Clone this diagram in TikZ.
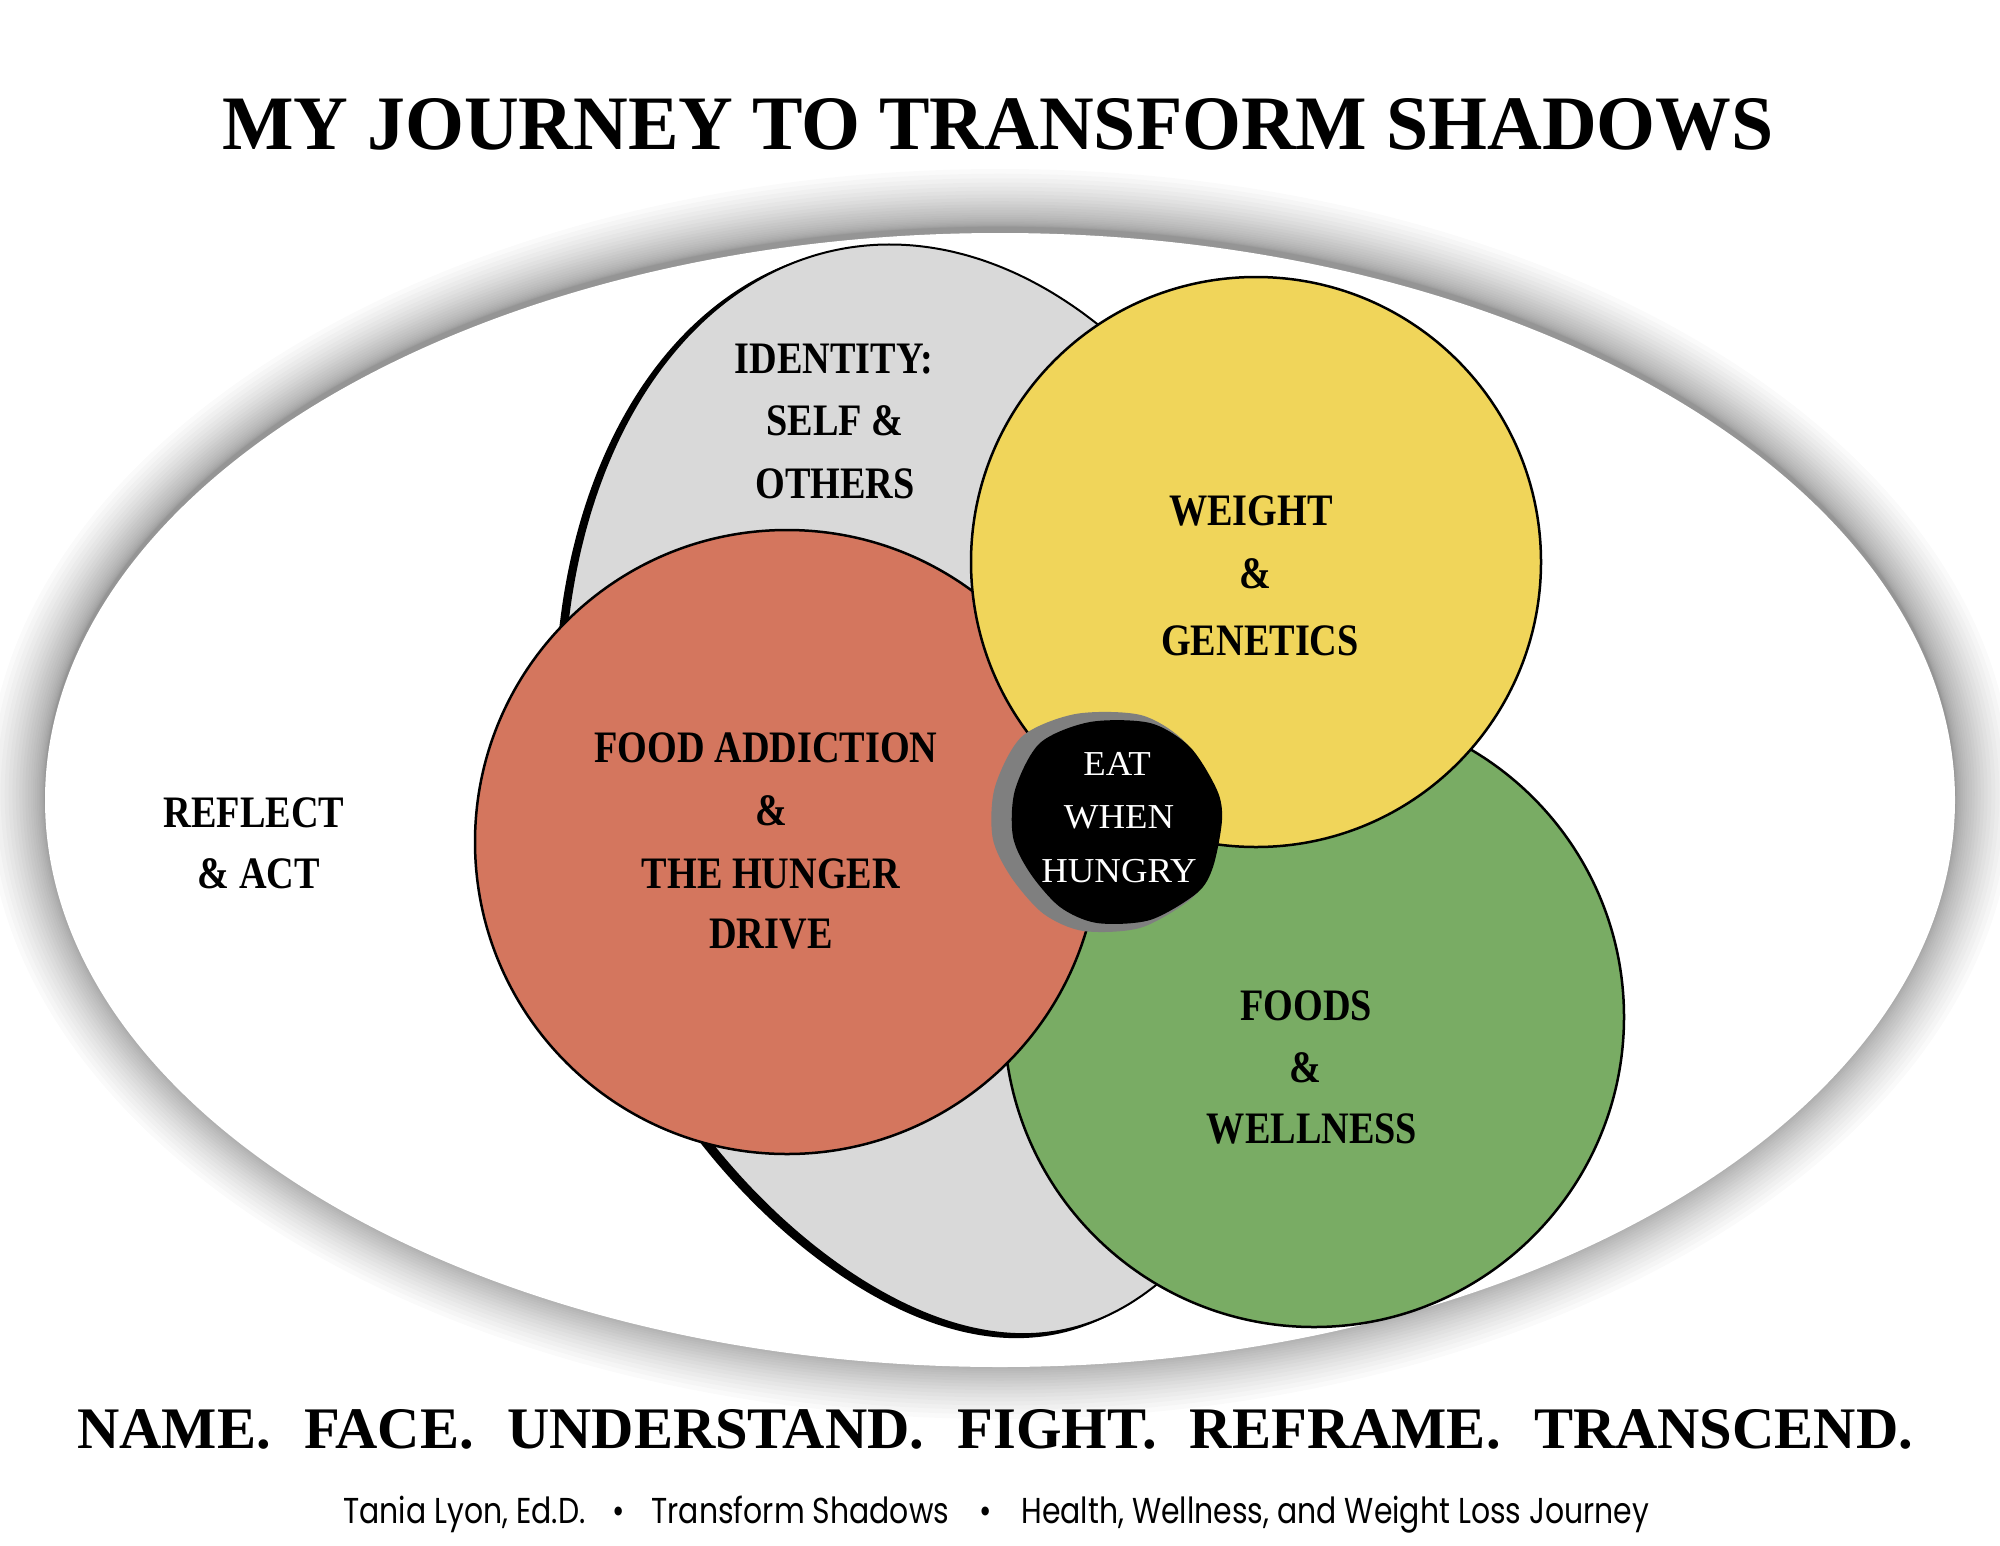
\documentclass[tikz,border=0pt]{standalone}
\usepackage{fontspec}
\usepackage{graphicx}
\newfontfamily\lsfont{Liberation Serif}
\newfontfamily\popfont{Poppins}
\definecolor{cgray}{HTML}{D9D9D9}
\definecolor{cred}{HTML}{D4765E}
\definecolor{cyellow}{HTML}{F0D55A}
\definecolor{cgreen}{HTML}{79AC64}
\definecolor{cblobshadow}{HTML}{7F7F7F}
\newcommand\lb[1]{\scalebox{0.85}[1]{#1}}
\newcommand\eb[1]{\scalebox{1.05}[1]{#1}}
\begin{document}
\begin{tikzpicture}[x=1pt,y=-1pt,
  declare function={
    ea(\t)=378-50*(min(sin(\t),0))^2;
    ex(\t)=950+ea(\t)*cos(\t)*0.978-552*sin(\t)*0.208;
    ey(\t)=790-ea(\t)*cos(\t)*0.208-552*sin(\t)*0.978;
  },
  lbl/.style={font=\lsfont\bfseries\fontsize{45}{50}\selectfont, anchor=base, inner sep=0pt},
  eat/.style={font=\lsfont\fontsize{35}{40}\selectfont, text=white, anchor=base, inner sep=0pt},
  ring/.style={draw=black, line width=2.5pt}]
\useasboundingbox (0,0) rectangle (2000,1545);
\fill[white] (0,0) rectangle (2000,1545);

% soft shadow of the big oval
\foreach \i in {1,...,24}{
  \pgfmathsetmacro\rx{955+58*(\i/24)^2}
  \pgfmathsetmacro\ry{567+58*(\i/24)^2}
  \fill[black,opacity=0.019] (1000,794) ellipse [x radius=\rx, y radius=\ry];
}
\fill[white] (1000,800) ellipse [x radius=955, y radius=567];

% identity (gray) egg with heavy outline on the left
\begin{scope}[shift={(-7,3)}]
\filldraw[fill=black, draw=black, line width=2pt]
  plot[domain=0:360, samples=144, smooth, variable=\t] ({ex(\t)},{ey(\t)}) -- cycle;
\end{scope}
\filldraw[fill=cgray, draw=black, line width=2pt]
  plot[domain=0:360, samples=144, smooth, variable=\t] ({ex(\t)},{ey(\t)}) -- cycle;

% circles
\filldraw[ring, fill=cgreen] (1314,1017) circle [radius=310];
\filldraw[ring, fill=cred] (787,842) circle [radius=312];
\filldraw[ring, fill=cyellow] (1256,562) circle [radius=285];

% central blob
\begin{scope}[shift={(-12,0)}, scale around={1.08:(1117,823)}]
\fill[cblobshadow] plot[smooth cycle] coordinates {
 (1040,743) (1090,722) (1150,723) (1190,747) (1217,790) (1222,820) (1213,867)
 (1197,893) (1150,920) (1097,923) (1060,907) (1030,873) (1013,837) (1015,790)};
\end{scope}
\fill[black] plot[smooth cycle] coordinates {
 (1040,743) (1090,722) (1150,723) (1190,747) (1217,790) (1222,820) (1213,867)
 (1197,893) (1150,920) (1097,923) (1060,907) (1030,873) (1013,837) (1015,790)};

% titles
\node[anchor=base west, inner sep=0pt] (title) at (222,149)
  {\resizebox{1551pt}{51pt}{\lsfont\bfseries MY JOURNEY TO TRANSFORM SHADOWS}};
\node[anchor=base west, inner sep=0pt] (motto) at (77,1448)
  {\resizebox{1836pt}{39pt}{\lsfont\bfseries NAME.\hspace{0.57em}FACE.\hspace{0.57em}UNDERSTAND.\hspace{0.57em}FIGHT.\hspace{0.57em}REFRAME.\hspace{0.57em}TRANSCEND.}};
\node[anchor=base west, inner sep=0pt] (credit) at (343,1523)
  {\resizebox{1306pt}{\height}{\popfont\fontsize{36}{40}\selectfont Tania Lyon, Ed.D.\hspace{0.9em}•\hspace{0.9em}Transform Shadows\hspace{1em}•\hspace{1em}Health, Wellness, and Weight Loss Journey}};

% labels
\node[lbl] (id1) at (834,373) {\lb{IDENTITY:}};
\node[lbl] (id2) at (835,435) {\lb{SELF \&}};
\node[lbl] (id3) at (835,498) {\lb{OTHERS}};

\node[lbl] (wg1) at (1251,525) {\lb{WEIGHT}};
\node[lbl] (wg2) at (1255,588) {\lb{\&}};
\node[lbl] (wg3) at (1260,655) {\lb{GENETICS}};

\node[lbl] (fa1) at (766,762) {\lb{FOOD ADDICTION}};
\node[lbl] (fa2) at (771,825) {\lb{\&}};
\node[lbl] (fa3) at (771,888) {\lb{THE HUNGER}};
\node[lbl] (fa4) at (771,948) {\lb{DRIVE}};

\node[lbl] (fw1) at (1306,1020) {\lb{FOODS}};
\node[lbl] (fw2) at (1305,1082) {\lb{\&}};
\node[lbl] (fw3) at (1312,1143) {\lb{WELLNESS}};

\node[lbl] (ra1) at (254,827) {\lb{REFLECT}};
\node[lbl] (ra2) at (259,888) {\lb{\& ACT}};

\node[eat] (eat1) at (1117,775) {\eb{EAT}};
\node[eat] (eat2) at (1119,828) {\eb{WHEN}};
\node[eat] (eat3) at (1119,882) {\eb{HUNGRY}};
\end{tikzpicture}
\end{document}
